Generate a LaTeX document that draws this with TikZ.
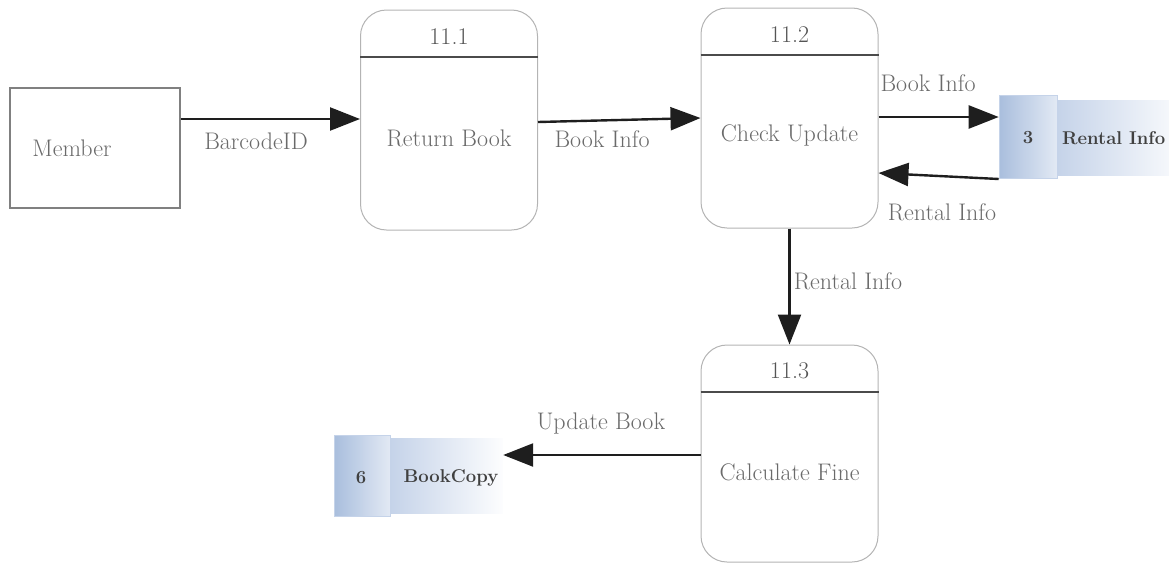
\documentclass[tikz,border=0pt]{standalone}
\usetikzlibrary{arrows.meta}
\definecolor{txtgray}{HTML}{6A6A6A}
\definecolor{idgray}{HTML}{555555}
\definecolor{boxline}{HTML}{B4B4B4}
\definecolor{lineDark}{HTML}{1E1E1E}
\definecolor{storeDark}{HTML}{A9BEDD}
\definecolor{storeMid}{HTML}{C5D3E9}
\definecolor{storeLight}{HTML}{E2E9F4}
\tikzset{
  proc/.style={draw=boxline, line width=1pt, rounded corners=26pt, minimum width=177pt, minimum height=220pt, inner sep=0pt, fill=white},
  divider/.style={draw=lineDark!80, line width=1.6pt},
  txt/.style={text=txtgray, font=\fontsize{24}{28}\selectfont, inner sep=1pt},
  idtxt/.style={text=idgray, font=\fontsize{24}{28}\selectfont, inner sep=1pt},
  ent/.style={draw=gray, line width=2pt, minimum width=170pt, minimum height=120pt, inner sep=0pt},
  storeA/.style={draw=storeMid, line width=0.6pt, left color=storeDark, right color=storeLight, inner sep=0pt},
  storeB/.style={left color=storeMid, right color=white!96!storeMid, inner sep=0pt},
  storetxt/.style={text=black!75, font=\bfseries\fontsize{18.5}{22}\selectfont, inner sep=0pt},
  flow/.style={draw=lineDark, line width=2.4pt, -{Triangle[length=30pt,width=23pt]}},
}
\begin{document}
\begin{tikzpicture}[x=1pt,y=-1pt]
\useasboundingbox (0,0) rectangle (1169,565);
\begin{scope}
\clip (0,0) rectangle (1169,565);
% external entity
\node[ent] (member) at (95,148) {};
\node[txt] (membertxt) at (72,148) {Member};
% processes
\node[proc] (p1) at (449,120) {};
\draw[divider] (p1.west |- 0,57) -- (p1.east |- 0,57);
\node[idtxt] (p1id) at (449,37) {11.1};
\node[txt] (p1txt) at (449,138) {Return Book};

\node[proc] (p2) at (789.5,118) {};
\draw[divider] (p2.west |- 0,55) -- (p2.east |- 0,55);
\node[idtxt] (p2id) at (789.5,35) {11.2};
\node[txt] (p2txt) at (789.5,135) {Check Update};

\node[proc, minimum height=217pt] (p3) at (789.5,453.5) {};
\draw[divider] (p3.west |- 0,392) -- (p3.east |- 0,392);
\node[idtxt] (p3id) at (789.5,371) {11.3};
\node[txt] (p3txt) at (789.5,472) {Calculate Fine};

% data store 3
\node[storeB, minimum width=130pt, minimum height=75pt] (s3b) at (1122,137.5) {};
\node[storeA, minimum width=58pt, minimum height=83pt] (s3a) at (1028,136.5) {};
\node[storetxt] (s3num) at (1028,138) {3};
\node[storetxt, anchor=west] (s3txt) at (1062,138) {Rental Info};

% data store 6
\node[storeB, minimum width=113pt, minimum height=75pt] (s6b) at (446.5,476) {};
\node[storeA, minimum width=56pt, minimum height=81pt] (s6a) at (362,476) {};
\node[storetxt] (s6num) at (361,478) {6};
\node[storetxt] (s6txt) at (451,478) {BookCopy};

% flows
\draw[flow] (member.east |- 0,119) -- (p1.west |- 0,119);
\node[txt] (l1) at (256,141) {BarcodeID};
\draw[flow] (p1.east |- 0,122) -- (p2.west |- 0,118);
\node[txt] (l2) at (602,139) {Book Info};
\draw[flow] (p2.east |- 0,117) -- (s3a.west |- 0,117);
\node[txt] (l3) at (928,83) {Book Info};
\draw[flow] (s3a.west |- 0,179) -- (p2.east |- 0,173);
\node[txt] (l4) at (942,212) {Rental Info};
\draw[flow] (p2.south) -- (p3.north);
\node[txt] (l5) at (848,281) {Rental Info};
\draw[flow] (p3.west |- 0,455) -- (s6b.east |- 0,455);
\node[txt] (l6) at (601,424) {Update Book};
\end{scope}
\end{tikzpicture}
\end{document}
